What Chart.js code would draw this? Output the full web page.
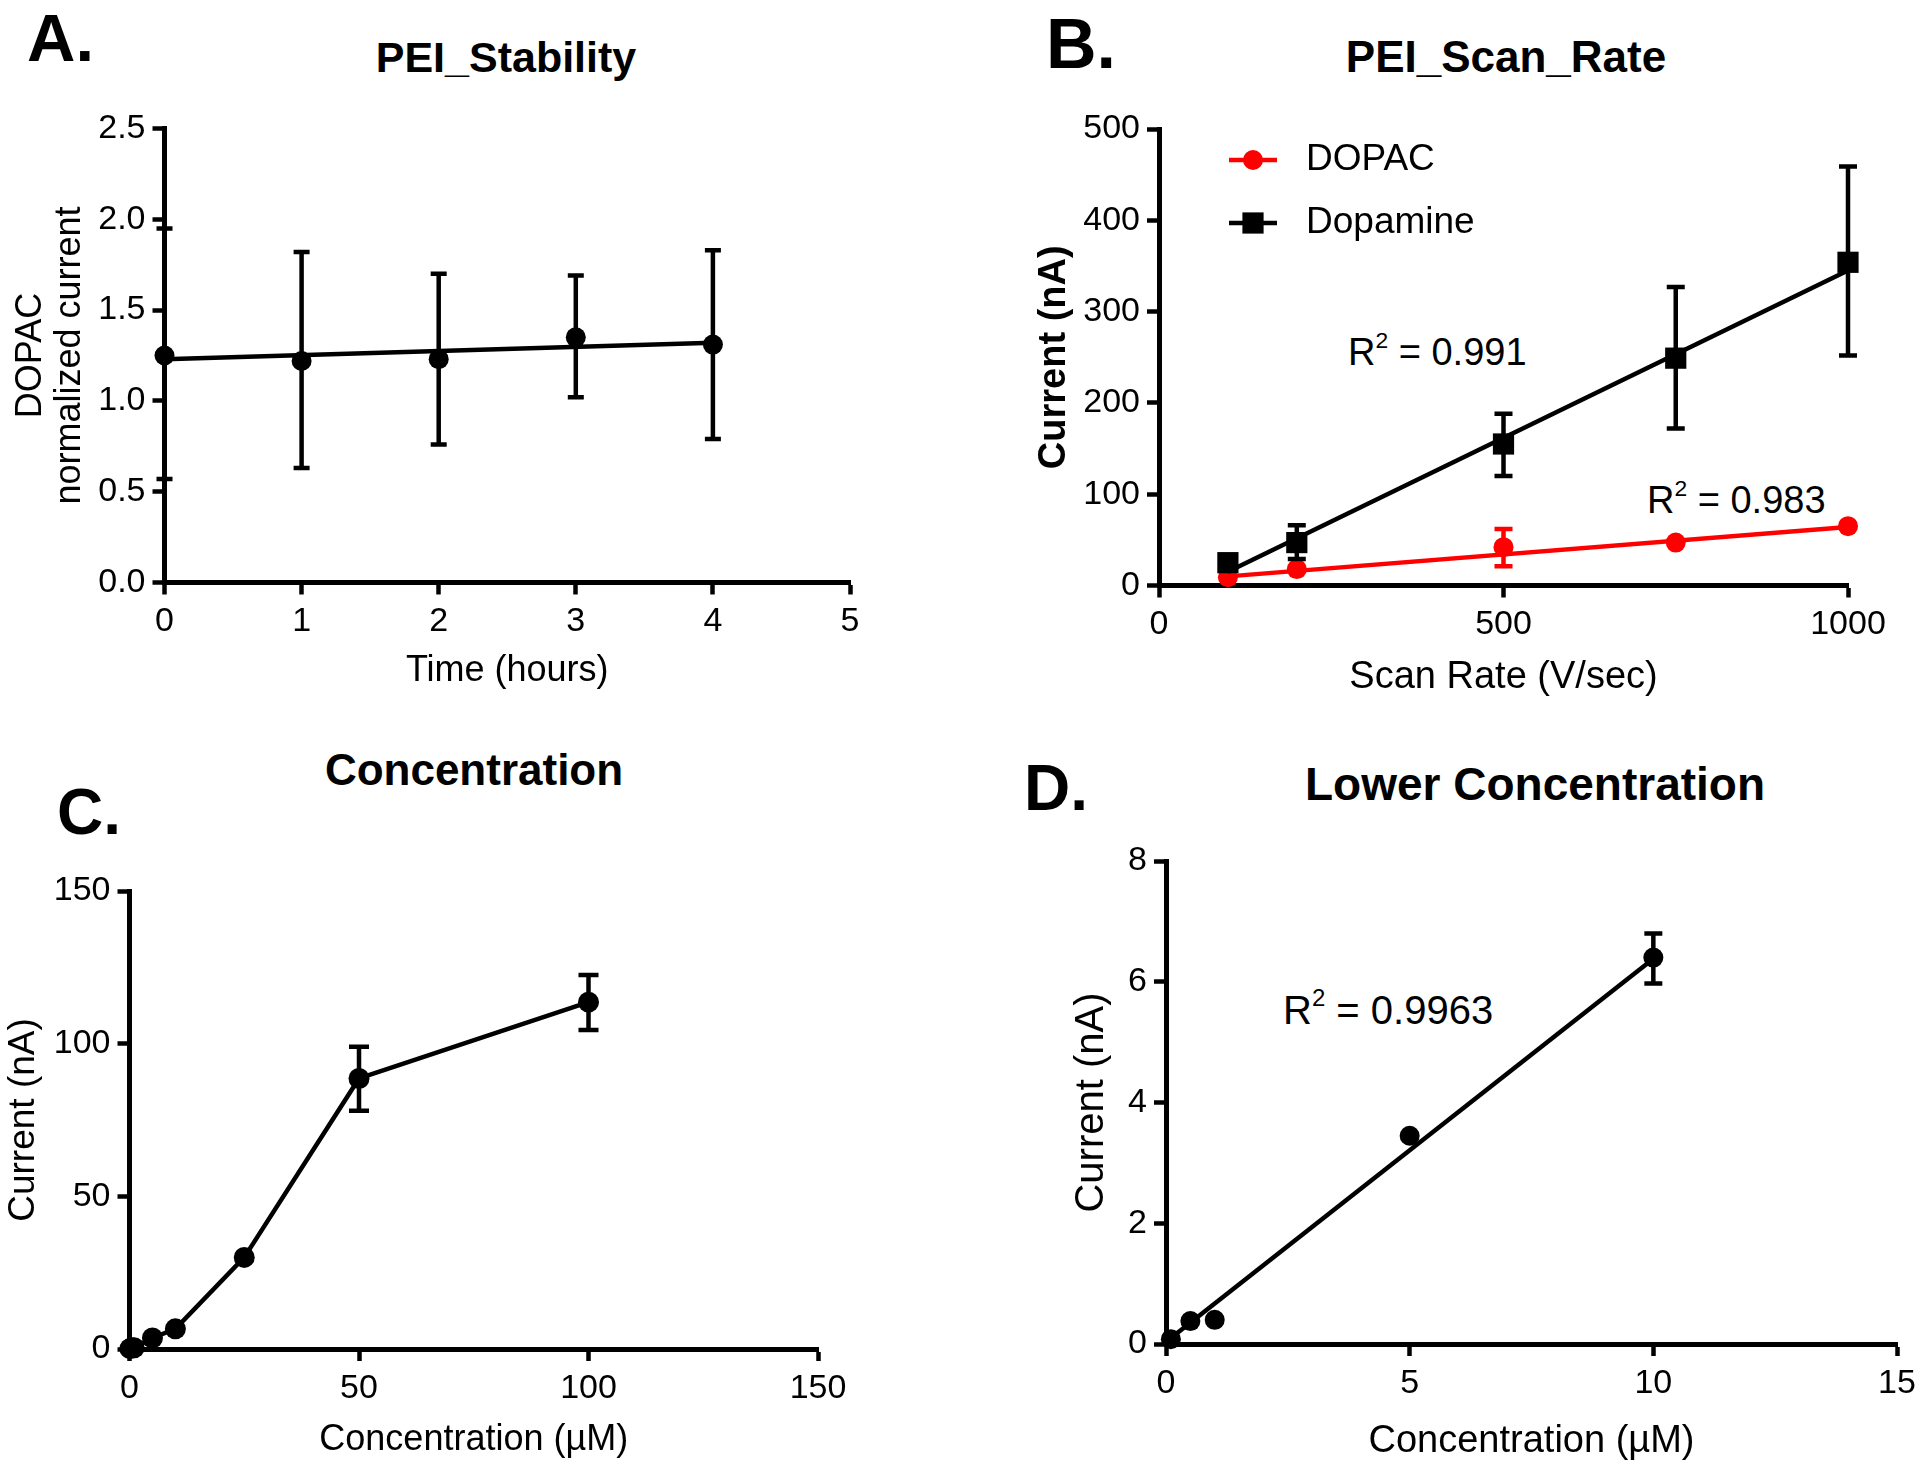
<!DOCTYPE html>
<html>
<head>
<meta charset="utf-8">
<script src="https://cdn.jsdelivr.net/npm/chart.js@4.4.1/dist/chart.umd.min.js"></script>
<style>
  html, body { margin: 0; padding: 0; background: #fff; }
  body { width: 1920px; height: 1469px; position: relative; overflow: hidden;
         font-family: "Liberation Sans", Arial, sans-serif; color: #000; }
  canvas { position: absolute; }
  .txt { position: absolute; line-height: 1; white-space: nowrap; transform: translateY(-50%); }
  .ctr { transform: translate(-50%, -50%); }
  .b { font-weight: bold; }
  sup { font-size: 0.6em; vertical-align: 0.75em; line-height: 0; }
</style>
</head>
<body>

<div class="txt b" style="left:27px; top:37px; font-size:67px;">A.</div>
<div class="txt b" style="left:1046px; top:44px; font-size:70px;">B.</div>
<div class="txt b" style="left:57px; top:812px; font-size:64px;">C.</div>
<div class="txt b" style="left:1024px; top:788px; font-size:64px;">D.</div>

<div class="txt b ctr" style="left:506px; top:57px; font-size:43px;">PEI_Stability</div>
<div class="txt b ctr" style="left:1506px; top:57px; font-size:44px;">PEI_Scan_Rate</div>
<div class="txt b ctr" style="left:474px; top:770px; font-size:44px;">Concentration</div>
<div class="txt b ctr" style="left:1535px; top:784px; font-size:46px;">Lower Concentration</div>

<div class="txt" style="left:1348px; top:352px; font-size:38px;">R<sup>2</sup> = 0.991</div>
<div class="txt" style="left:1647px; top:500px; font-size:38px;">R<sup>2</sup> = 0.983</div>
<div class="txt" style="left:1283px; top:1010px; font-size:40px;">R<sup>2</sup> = 0.9963</div>

<canvas id="chartA" width="960" height="735" style="left:0; top:0;"></canvas>
<canvas id="chartB" width="960" height="735" style="left:960px; top:0;"></canvas>
<canvas id="chartC" width="960" height="734" style="left:0; top:735px;"></canvas>
<canvas id="chartD" width="960" height="734" style="left:960px; top:735px;"></canvas>

<script>
// ---------------- DATA ----------------

// A. PEI stability
const timeHours = [0, 1, 2, 3, 4];
const stabilityMean = [1.25, 1.22, 1.23, 1.35, 1.31];
const stabilityLow = [0.57, 0.63, 0.76, 1.02, 0.79];
const stabilityHigh = [1.95, 1.82, 1.70, 1.69, 1.83];
const stabilityFitX = [0, 4];
const stabilityFitY = [1.23, 1.32];

// B. scan rate
const seriesNames = ["DOPAC", "Dopamine"];
const scanRates = [100, 200, 500, 750, 1000];
const dopacCurrent = [9, 18, 42, 47, 65];
const dopacLow = [null, null, 21, null, null];
const dopacHigh = [null, null, 62, null, null];
const dopamineCurrent = [25, 47, 155, 249, 354];
const dopamineLow = [null, 29, 120, 172, 252];
const dopamineHigh = [null, 66, 188, 327, 459];
const fitRateX = [100, 1000];
const dopacFitY = [10, 64];
const dopamineFitY = [15, 345];

// C. concentration
const concC = [0.1, 0.5, 1, 5, 10, 25, 50, 100];
const currentC = [0.1, 0.4, 0.4, 3.6, 6.6, 30, 88.6, 113.6];
const currentCLow = [null, null, null, null, null, null, 78, 104.5];
const currentCHigh = [null, null, null, null, null, null, 99, 122.5];

// D. lower concentration
const concD = [0.1, 0.5, 1, 5, 10];
const currentD = [0.08, 0.38, 0.40, 3.45, 6.40];
const currentDLow = [null, null, null, null, 5.97];
const currentDHigh = [null, null, null, null, 6.80];
const fitDX = [0.1, 10];
const fitDY = [0.1, 6.38];

// ---------------- HELPERS ----------------

Chart.defaults.font.family = '"Liberation Sans", Arial, sans-serif';
Chart.defaults.color = "#000";

const LINE_W = 4.5;

const pts = (xs, ys) => xs.map((x, i) => ({ x: x, y: ys[i] }));

const errorBars = {
    id: "errorBars",
    afterDatasetsDraw(chart, args, opts) {
        const ctx = chart.ctx;
        const xs = chart.scales.x, ys = chart.scales.y;
        chart.data.datasets.forEach(ds => {
            if (!ds.errLow) return;
            ctx.save();
            ctx.strokeStyle = ds.borderColor;
            ctx.lineWidth = opts.width;
            ds.data.forEach((p, i) => {
                const lo = ds.errLow[i], hi = ds.errHigh[i];
                if (lo == null || hi == null) return;
                const px = xs.getPixelForValue(p.x);
                const y1 = ys.getPixelForValue(lo);
                const y2 = ys.getPixelForValue(hi);
                ctx.beginPath();
                ctx.moveTo(px, y1); ctx.lineTo(px, y2);
                ctx.moveTo(px - opts.cap, y1); ctx.lineTo(px + opts.cap, y1);
                ctx.moveTo(px - opts.cap, y2); ctx.lineTo(px + opts.cap, y2);
                ctx.stroke();
            });
            ctx.restore();
        });
    }
};

const insideLegend = {
    id: "insideLegend",
    afterDraw(chart, args, opts) {
        if (!opts.items) return;
        const ctx = chart.ctx;
        opts.items.forEach(it => {
            ctx.save();
            ctx.strokeStyle = it.color;
            ctx.fillStyle = it.color;
            ctx.lineWidth = LINE_W;
            ctx.beginPath();
            ctx.moveTo(it.x1, it.y);
            ctx.lineTo(it.x2, it.y);
            ctx.stroke();
            Chart.helpers.drawPoint(ctx, { pointStyle: it.style, radius: it.radius, borderWidth: 0, rotation: 0 },
                (it.x1 + it.x2) / 2, it.y);
            ctx.fillStyle = "#000";
            ctx.font = opts.font;
            ctx.textBaseline = "middle";
            ctx.textAlign = "left";
            ctx.fillText(it.label, it.tx, it.y);
            ctx.restore();
        });
    }
};

function axis(o) {
    return {
        type: "linear",
        position: o.pos,
        min: o.min,
        max: o.max,
        afterFit: s => {
            if (o.pos === "left") s.width = o.size; else s.height = o.size;
            s.paddingLeft = 0; s.paddingRight = 0; s.paddingTop = 0; s.paddingBottom = 0;
        },
        border: { display: true, color: "#000", width: 5 },
        grid: { display: true, drawOnChartArea: false, drawTicks: true, tickLength: 12, tickWidth: 4.5, tickColor: "#000" },
        ticks: {
            stepSize: o.step,
            autoSkip: false,
            maxRotation: 0,
            padding: o.pos === "left" ? 7 : 7,
            font: { size: 34 },
            color: "#000",
            callback: o.fmt || (v => String(v))
        },
        title: {
            display: true,
            text: o.title,
            color: "#000",
            font: { size: o.tsize, weight: o.tbold ? "bold" : "normal", lineHeight: o.tlh || 1.2 },
            padding: o.pos === "left" ? { top: o.tpad, bottom: 0 } : { top: 0, bottom: o.tpad }
        }
    };
}

function baseOptions(pad, xs, ys, extra) {
    return {
        responsive: false,
        animation: false,
        events: [],
        layout: { padding: pad },
        scales: { x: axis(xs), y: axis(ys) },
        plugins: Object.assign({
            legend: { display: false },
            tooltip: { enabled: false },
            title: { display: false }
        }, extra)
    };
}

function markers(data, color, style, radius, low, high) {
    return {
        data: data,
        showLine: false,
        pointStyle: style,
        pointRadius: radius,
        pointBackgroundColor: color,
        pointBorderWidth: 0,
        borderColor: color,
        backgroundColor: color,
        clip: false,
        errLow: low,
        errHigh: high
    };
}

function fitLine(data, color) {
    return {
        data: data,
        showLine: true,
        pointRadius: 0,
        borderColor: color,
        borderWidth: LINE_W,
        clip: false
    };
}

// ---------------- A. PEI_STABILITY ----------------

new Chart(document.getElementById("chartA"), {
    type: "scatter",
    data: {
        datasets: [
            fitLine(pts(stabilityFitX, stabilityFitY), "#000"),
            markers(pts(timeHours, stabilityMean), "#000", "circle", 10, stabilityLow, stabilityHigh)
        ]
    },
    options: baseOptions(
        { left: 0, right: 110, top: 128.5, bottom: 0 },
        { pos: "bottom", min: 0, max: 5, step: 1, size: 152.5, title: "Time (hours)", tsize: 36, tpad: 42 },
        { pos: "left", min: 0, max: 2.5, step: 0.5, size: 164.5, title: ["DOPAC", "normalized current"],
          tsize: 36, tlh: 1.1, tpad: 11, fmt: v => v.toFixed(1) },
        { errorBars: { width: LINE_W, cap: 8 } }
    ),
    plugins: [errorBars]
});

// ---------------- B. PEI_SCAN_RATE ----------------

new Chart(document.getElementById("chartB"), {
    type: "scatter",
    data: {
        datasets: [
            fitLine(pts(fitRateX, dopamineFitY), "#000"),
            fitLine(pts(fitRateX, dopacFitY), "#ff0000"),
            markers(pts(scanRates, dopamineCurrent), "#000", "rect", 15, dopamineLow, dopamineHigh),
            markers(pts(scanRates, dopacCurrent), "#ff0000", "circle", 10, dopacLow, dopacHigh)
        ]
    },
    options: baseOptions(
        { left: 0, right: 72, top: 129, bottom: 0 },
        { pos: "bottom", min: 0, max: 1000, step: 500, size: 149.5, title: "Scan Rate (V/sec)", tsize: 38, tpad: 35 },
        { pos: "left", min: 0, max: 500, step: 100, size: 199, title: "Current (nA)", tsize: 38, tbold: true, tpad: 72 },
        {
            errorBars: { width: LINE_W, cap: 9 },
            insideLegend: {
                font: '37px "Liberation Sans", Arial, sans-serif',
                items: [
                    { label: seriesNames[0], color: "#ff0000", style: "circle", radius: 10, x1: 269, x2: 317, tx: 346, y: 160 },
                    { label: seriesNames[1], color: "#000", style: "rect", radius: 15, x1: 269, x2: 317, tx: 346, y: 223 }
                ]
            }
        }
    ),
    plugins: [errorBars, insideLegend]
});

// ---------------- C. CONCENTRATION ----------------

const concLine = markers(pts(concC, currentC), "#000", "circle", 10.5, currentCLow, currentCHigh);
concLine.showLine = true;
concLine.borderWidth = LINE_W;

new Chart(document.getElementById("chartC"), {
    type: "scatter",
    data: { datasets: [concLine] },
    options: baseOptions(
        { left: 0, right: 142, top: 156, bottom: 0 },
        { pos: "bottom", min: 0, max: 150, step: 50, size: 120, title: "Concentration (\u00b5M)", tsize: 36, tpad: 7 },
        { pos: "left", min: 0, max: 150, step: 50, size: 129.5, title: "Current (nA)", tsize: 37, tpad: 2 },
        { errorBars: { width: LINE_W, cap: 10 } }
    ),
    plugins: [errorBars]
});

// ---------------- D. LOWER CONCENTRATION ----------------

new Chart(document.getElementById("chartD"), {
    type: "scatter",
    data: {
        datasets: [
            fitLine(pts(fitDX, fitDY), "#000"),
            markers(pts(concD, currentD), "#000", "circle", 10, currentDLow, currentDHigh)
        ]
    },
    options: baseOptions(
        { left: 0, right: 23, top: 126, bottom: 0 },
        { pos: "bottom", min: 0, max: 15, step: 5, size: 125, title: "Concentration (\u00b5M)", tsize: 38, tpad: 5 },
        { pos: "left", min: 0, max: 8, step: 2, size: 206, title: "Current (nA)", tsize: 40, tpad: 108 },
        { errorBars: { width: LINE_W, cap: 9 } }
    ),
    plugins: [errorBars]
});
</script>
</body>
</html>
